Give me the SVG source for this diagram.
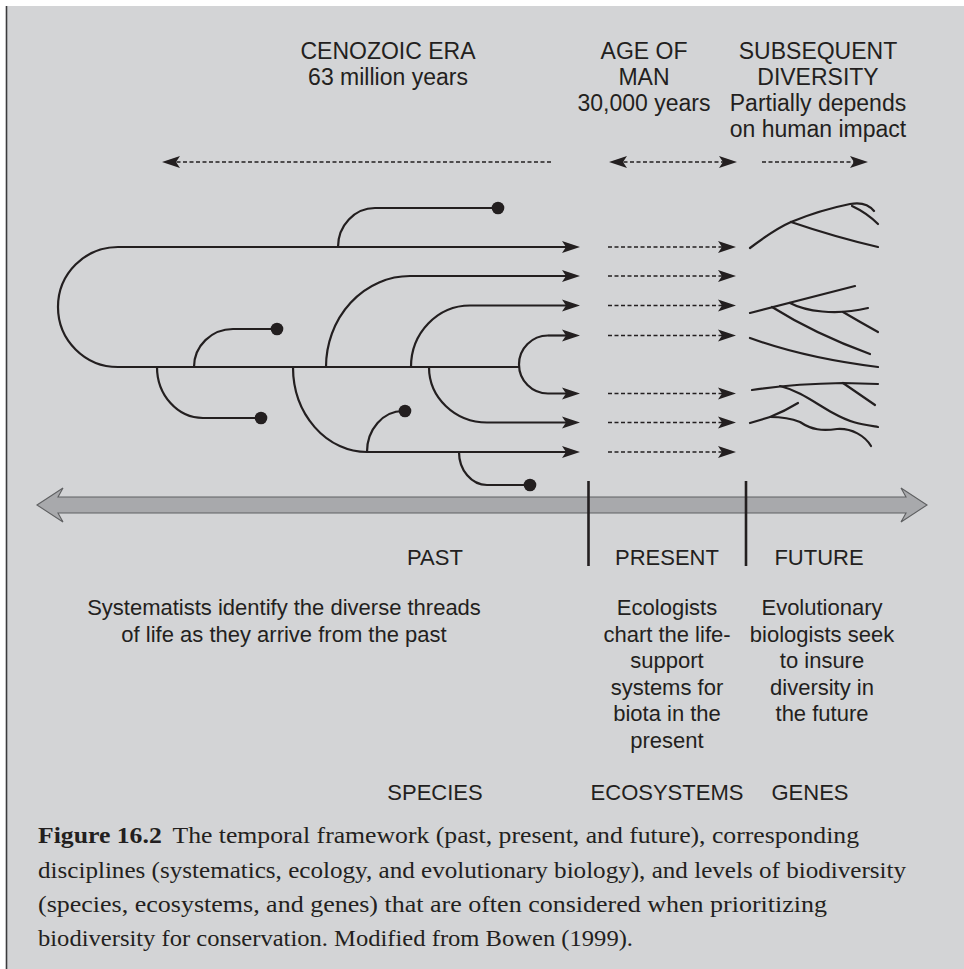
<svg xmlns="http://www.w3.org/2000/svg" width="964" height="969" viewBox="0 0 964 969">
  <style>
    .t { font-family: "Liberation Sans", Arial, sans-serif; font-size: 22px; fill: #231f20; text-anchor: middle; }
    .h { font-size: 23px; }
    .cap { font-family: "Liberation Serif", "Times New Roman", serif; font-size: 24px; fill: #231f20; }
    .ln { fill: none; stroke: #231f20; stroke-width: 2.2; }
    .ar { marker-end: url(#head); }
    .dash { fill: none; stroke: #231f20; stroke-width: 1.4; stroke-dasharray: 4 2.5; }
    .fut { fill: none; stroke: #231f20; stroke-width: 2.2; stroke-linecap: round; }
    .dot { fill: #231f20; }
  </style>
  <defs>
    <marker id="head" viewBox="-11 -7 20 14" refX="0" refY="0" markerWidth="20" markerHeight="14" markerUnits="userSpaceOnUse" orient="auto-start-reverse">
      <path d="M8,0 L-10,-6 L-6,0 L-10,6 Z" fill="#231f20"/>
    </marker>
  </defs>

  <!-- panel -->
  <rect x="0" y="0" width="964" height="969" fill="#ffffff"/>
  <rect x="6" y="6" width="958" height="963" fill="#d3d4d6"/>
  <line x1="6.5" y1="6" x2="6.5" y2="969" stroke="#3b3b3d" stroke-width="1.6"/>

  <!-- header labels -->
  <g id="cenozoic">
    <text class="t h" x="388" y="59">CENOZOIC ERA</text>
    <text class="t h" x="388" y="85">63 million years</text>
  </g>
  <g id="age-of-man">
    <text class="t h" x="644" y="59">AGE OF</text>
    <text class="t h" x="644" y="85">MAN</text>
    <text class="t h" x="644" y="111">30,000 years</text>
  </g>
  <g id="subsequent">
    <text class="t h" x="818" y="59">SUBSEQUENT</text>
    <text class="t h" x="818" y="85">DIVERSITY</text>
    <text class="t h" x="818" y="111">Partially depends</text>
    <text class="t h" x="818" y="137">on human impact</text>
  </g>

  <!-- time-span arrows -->
  <g id="span-arrows">
    <path class="dash ar" d="M551 162 H170"/>
    <path class="dash ar" d="M617 162 H729" marker-start="url(#head)"/>
    <path class="dash ar" d="M762 162 H860"/>
  </g>

  <!-- phylogeny (past) -->
  <g id="tree">
    <path class="ln" d="M118 247 A60 60 0 0 0 118 367 H519"/>
    <path class="ln ar" d="M118 247 H572"/>
    <path class="ln ar" d="M548 335.5 A29 29 0 0 0 548 393.5 H572"/>
    <path class="ln ar" d="M548 335.5 H572"/>
    <path class="ln ar" d="M326 367 A84 91 0 0 1 410 276 H572"/>
    <path class="ln ar" d="M411 367 A59 61.5 0 0 1 470 305.5 H572"/>
    <path class="ln ar" d="M429 367 A58 55.5 0 0 0 487 422.5 H572"/>
    <path class="ln ar" d="M293 367 A74 85 0 0 0 367 452 H572"/>
    <!-- extinct lineages -->
    <path class="ln" d="M338 247 A37 39 0 0 1 375 208 H496"/>
    <path class="ln" d="M194 367 A39 38 0 0 1 233 329 H275"/>
    <path class="ln" d="M157 367 A46 51 0 0 0 203 418 H259"/>
    <path class="ln" d="M367 452 A36 41 0 0 1 403 411 H405"/>
    <path class="ln" d="M459 452 A28 33 0 0 0 487 485 H528"/>
    <circle class="dot" cx="498" cy="208" r="6.3"/>
    <circle class="dot" cx="277" cy="329" r="6.3"/>
    <circle class="dot" cx="261" cy="418" r="6.3"/>
    <circle class="dot" cx="405" cy="411" r="6.3"/>
    <circle class="dot" cx="530" cy="485" r="6.3"/>
  </g>

  <!-- lineages carried through the present -->
  <g id="present-arrows">
    <path class="dash ar" d="M608 247 H728"/>
    <path class="dash ar" d="M608 276 H728"/>
    <path class="dash ar" d="M608 305.5 H728"/>
    <path class="dash ar" d="M608 335.5 H728"/>
    <path class="dash ar" d="M608 393.5 H728"/>
    <path class="dash ar" d="M608 422.5 H728"/>
    <path class="dash ar" d="M608 452 H728"/>
  </g>

  <!-- future diversification -->
  <g id="future">
    <path class="fut" d="M750 248 Q775 229 791 222 Q820 210 850 204 Q866 201 874 211"/>
    <path class="fut" d="M852 206 Q867 213 878 224"/>
    <path class="fut" d="M791 222 Q835 237 878 247"/>

    <path class="fut" d="M750 313 L855 286"/>
    <path class="fut" d="M790 303 C805 311 835 316 868 308"/>
    <path class="fut" d="M843 312 Q860 322 878 332"/>
    <path class="fut" d="M772 307 Q815 334 870 354"/>
    <path class="fut" d="M750 338 Q805 358 878 367"/>

    <path class="fut" d="M752 390 Q790 384 843 383 L878 384"/>
    <path class="fut" d="M780 386 C800 391 815 403 833 413 S860 424 878 427"/>
    <path class="fut" d="M843 383 L875 405"/>
    <path class="fut" d="M750 423 L770 417 Q785 411 798 403"/>
    <path class="fut" d="M770 417 C780 417 790 418 800 422 C812 430 822 431 837 429 C852 428 865 436 871 446"/>
  </g>

  <!-- time axis -->
  <g id="time-axis">
    <path d="M37 505 L63 488 L58 497 H906 L901 488 L927 505 L901 522 L906 513 H58 L63 522 Z" fill="#a8a9ac" stroke="#5f6062" stroke-width="1.1"/>
    <line x1="588.5" y1="481" x2="588.5" y2="566" stroke="#231f20" stroke-width="2.6"/>
    <line x1="746" y1="481" x2="746" y2="566" stroke="#231f20" stroke-width="2.6"/>
  </g>

  <!-- periods -->
  <g id="past">
    <text class="t" x="435" y="565">PAST</text>
    <text class="t" x="284" y="615">Systematists identify the diverse threads</text>
    <text class="t" x="284" y="641.5">of life as they arrive from the past</text>
    <text class="t" x="435" y="800">SPECIES</text>
  </g>
  <g id="present">
    <text class="t" x="667" y="565">PRESENT</text>
    <text class="t" x="667" y="615">Ecologists</text>
    <text class="t" x="667" y="641.5">chart the life-</text>
    <text class="t" x="667" y="668">support</text>
    <text class="t" x="667" y="694.5">systems for</text>
    <text class="t" x="667" y="721">biota in the</text>
    <text class="t" x="667" y="747.5">present</text>
    <text class="t" x="667" y="800">ECOSYSTEMS</text>
  </g>
  <g id="future-labels">
    <text class="t" x="819" y="565">FUTURE</text>
    <text class="t" x="822" y="615">Evolutionary</text>
    <text class="t" x="822" y="641.5">biologists seek</text>
    <text class="t" x="822" y="668">to insure</text>
    <text class="t" x="822" y="694.5">diversity in</text>
    <text class="t" x="822" y="721">the future</text>
    <text class="t" x="810" y="800">GENES</text>
  </g>

  <!-- caption -->
  <g id="caption">
    <text class="cap" x="38" y="843" textLength="821" lengthAdjust="spacingAndGlyphs"><tspan font-weight="bold">Figure 16.2</tspan><tspan dx="10">The temporal framework (past, present, and future), corresponding</tspan></text>
    <text class="cap" x="38" y="878" textLength="868" lengthAdjust="spacingAndGlyphs">disciplines (systematics, ecology, and evolutionary biology), and levels of biodiversity</text>
    <text class="cap" x="38" y="912" textLength="789" lengthAdjust="spacingAndGlyphs">(species, ecosystems, and genes) that are often considered when prioritizing</text>
    <text class="cap" x="38" y="946" textLength="595" lengthAdjust="spacingAndGlyphs">biodiversity for conservation. Modified from Bowen (1999).</text>
  </g>
</svg>
